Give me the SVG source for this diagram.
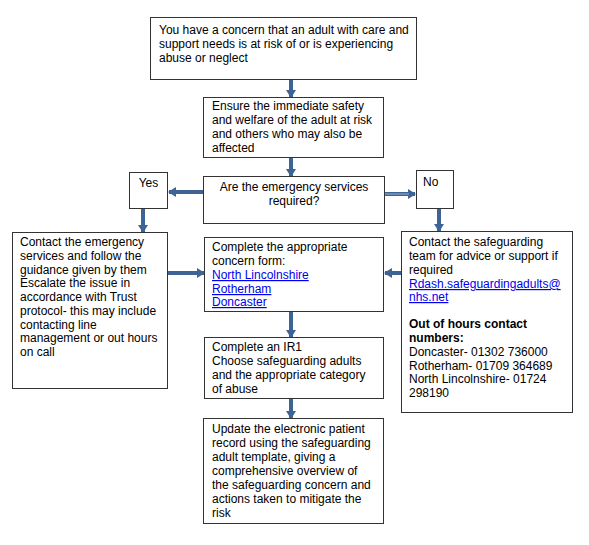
<svg xmlns="http://www.w3.org/2000/svg" width="589" height="545" viewBox="0 0 589 545">
<style>
.box{fill:#fff;stroke:#333;stroke-width:1}
text{font-family:"Liberation Sans",Arial,sans-serif;font-size:12px;fill:#000}
.lnk{fill:#0000EE;text-decoration:underline}
.b{font-weight:bold}
.c{stroke:#3E6496;stroke-width:4;fill:none}
</style>
<defs>
<marker id="ah" markerUnits="userSpaceOnUse" markerWidth="8" markerHeight="10" refX="7" refY="5" orient="auto">
<path d="M0,0 L8,5 L0,10 z" fill="#3E6496"/>
</marker>
</defs>
<rect width="589" height="545" fill="#fff"/>
<g id="connectors">
<line class="c" x1="291" y1="79" x2="291" y2="97" marker-end="url(#ah)"/>
<line class="c" x1="291" y1="158" x2="291" y2="176" marker-end="url(#ah)"/>
<line class="c" x1="203" y1="192" x2="169" y2="192" marker-end="url(#ah)"/>
<line class="c" x1="384" y1="194" x2="415" y2="194" stroke-width="5" marker-end="url(#ah)"/>
<line x1="384" y1="194" x2="409" y2="194" stroke="#8aa4c8" stroke-width="1.2"/>
<line class="c" x1="143" y1="208" x2="143" y2="232" marker-end="url(#ah)"/>
<line class="c" x1="439" y1="208" x2="439" y2="231" marker-end="url(#ah)"/>
<line class="c" x1="168" y1="273" x2="204" y2="273" marker-end="url(#ah)"/>
<line class="c" x1="401" y1="273" x2="385" y2="273" stroke-width="3" marker-end="url(#ah)"/>
<line class="c" x1="291" y1="312" x2="291" y2="337" marker-end="url(#ah)"/>
<line class="c" x1="291" y1="399" x2="291" y2="418" marker-end="url(#ah)"/>
</g>
<g id="concern">
<rect class="box" x="150.5" y="17.5" width="266" height="62"/>
<text x="159" y="34">You have a concern that an adult with care and</text>
<text x="159" y="48">support needs is at risk of or is experiencing</text>
<text x="159" y="62">abuse or neglect</text>
</g>
<g id="ensure">
<rect class="box" x="203.5" y="97.5" width="180" height="60"/>
<text x="212" y="110">Ensure the immediate safety</text>
<text x="212" y="124">and welfare of the adult at risk</text>
<text x="212" y="138">and others who may also be</text>
<text x="212" y="152">affected</text>
</g>
<g id="decision">
<rect class="box" x="203.5" y="176.5" width="181" height="47"/>
<text x="294" y="191" text-anchor="middle">Are the emergency services</text>
<text x="294" y="205" text-anchor="middle">required?</text>
</g>
<g id="yes">
<rect class="box" x="129.5" y="172.5" width="38" height="36"/>
<text x="148.5" y="187" text-anchor="middle">Yes</text>
</g>
<g id="no">
<rect class="box" x="416.5" y="170.5" width="37" height="38"/>
<text x="423" y="186">No</text>
</g>
<g id="emergency">
<rect class="box" x="12.5" y="232.5" width="155" height="156"/>
<text x="20" y="246">Contact the emergency</text>
<text x="20" y="260">services and follow the</text>
<text x="20" y="274">guidance given by them</text>
<text x="20" y="287">Escalate the issue in</text>
<text x="20" y="301">accordance with Trust</text>
<text x="20" y="315">protocol- this may include</text>
<text x="20" y="329">contacting line</text>
<text x="20" y="342">management or out hours</text>
<text x="20" y="356">on call</text>
</g>
<g id="form">
<rect class="box" x="204.5" y="237.5" width="179" height="74"/>
<text x="212" y="251">Complete the appropriate</text>
<text x="212" y="265">concern form:</text>
<text x="212" y="279" class="lnk">North Lincolnshire</text>
<text x="212" y="293" class="lnk">Rotherham</text>
<text x="212" y="306" class="lnk">Doncaster</text>
</g>
<g id="ir1">
<rect class="box" x="204.5" y="337.5" width="179" height="61"/>
<text x="212" y="351">Complete an IR1</text>
<text x="212" y="365">Choose safeguarding adults</text>
<text x="212" y="379">and the appropriate category</text>
<text x="212" y="393">of abuse</text>
</g>
<g id="safeguarding">
<rect class="box" x="401.5" y="231.5" width="171" height="181"/>
<text x="409" y="246">Contact the safeguarding</text>
<text x="409" y="260">team for advice or support if</text>
<text x="409" y="274">required</text>
<text x="409" y="288" class="lnk">Rdash.safeguardingadults@</text>
<text x="409" y="301" class="lnk">nhs.net</text>
<text x="409" y="328" class="b">Out of hours contact</text>
<text x="409" y="342" class="b">numbers:</text>
<text x="409" y="356">Doncaster- 01302 736000</text>
<text x="409" y="370">Rotherham- 01709 364689</text>
<text x="409" y="383">North Lincolnshire- 01724</text>
<text x="409" y="397">298190</text>
</g>
<g id="record">
<rect class="box" x="203.5" y="418.5" width="180" height="105"/>
<text x="212" y="433">Update the electronic patient</text>
<text x="212" y="447">record using the safeguarding</text>
<text x="212" y="461">adult template, giving a</text>
<text x="212" y="475">comprehensive overview of</text>
<text x="212" y="489">the safeguarding concern and</text>
<text x="212" y="503">actions taken to mitigate the</text>
<text x="212" y="517">risk</text>
</g>
</svg>
